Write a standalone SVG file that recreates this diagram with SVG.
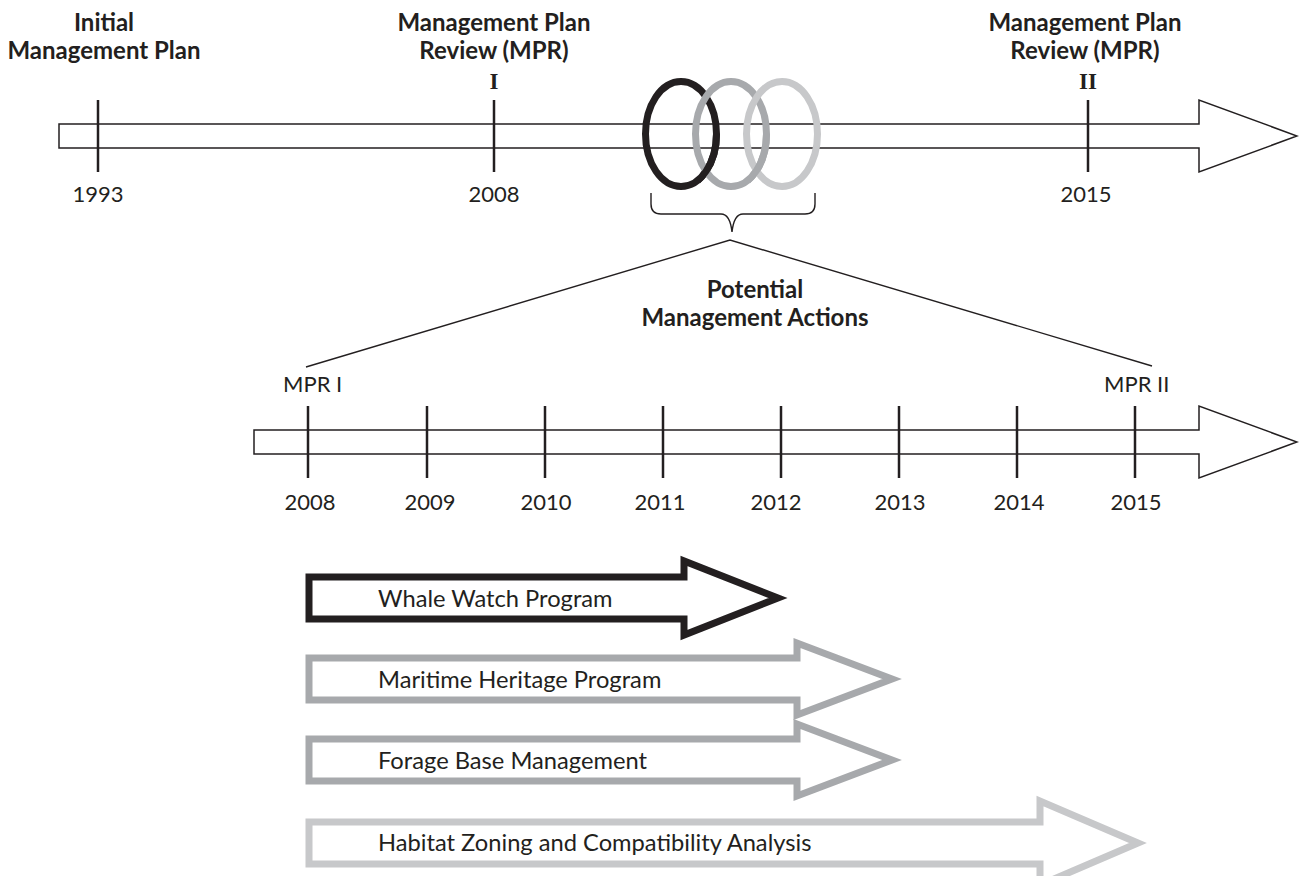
<svg xmlns="http://www.w3.org/2000/svg" width="1299" height="876" viewBox="0 0 1299 876">
<defs>
<style>
.bold{font-family:Lato,"Open Sans",sans-serif;font-weight:bold;font-size:24px;fill:#231f20;text-anchor:middle}
.roman{font-family:"Liberation Serif",serif;font-weight:bold;font-size:23px;fill:#231f20;text-anchor:middle}
.year{font-family:Lato,"Open Sans",sans-serif;font-size:22px;fill:#231f20;text-anchor:middle}
.mpr{font-family:Lato,"Open Sans",sans-serif;font-size:22px;fill:#231f20;text-anchor:start}
.lbl{font-family:Lato,"Open Sans",sans-serif;font-size:23.7px;fill:#231f20}
.tl{fill:#fff;stroke:#231f20;stroke-width:1.5}
.tick{stroke:#231f20;stroke-width:2.5}
.thin{fill:none;stroke:#231f20;stroke-width:1.4}
.act{fill:#fff;stroke-width:7;stroke-linejoin:miter;stroke-miterlimit:10}
.ring{fill:none;stroke-width:7}
</style>
<clipPath id="c1"><rect x="700" y="134" width="40" height="70"/></clipPath>
<clipPath id="c2"><rect x="750" y="134" width="40" height="70"/></clipPath>
</defs>
<rect width="1299" height="876" fill="#fff"/>

<g id="timeline-main">
<path class="tl" d="M59,124 H1199 V100 L1297,136 L1199,172 V148 H59 Z"/>
<line class="tick" x1="98" y1="100" x2="98" y2="172"/>
<line class="tick" x1="494" y1="100" x2="494" y2="172"/>
<line class="tick" x1="1088" y1="100" x2="1088" y2="172"/>
</g>

<g id="label-initial">
<text class="bold" x="104" y="31">Initial</text>
<text class="bold" x="104" y="59">Management Plan</text>
<text class="year" x="98" y="202">1993</text>
</g>
<g id="label-mpr1">
<text class="bold" x="494" y="31">Management Plan</text>
<text class="bold" x="494" y="59">Review (MPR)</text>
<text class="roman" x="494" y="89">I</text>
<text class="year" x="494" y="202">2008</text>
</g>
<g id="label-mpr2">
<text class="bold" x="1085" y="31">Management Plan</text>
<text class="bold" x="1085" y="59">Review (MPR)</text>
<text class="roman" x="1088" y="89">II</text>
<text class="year" x="1086" y="202">2015</text>
</g>

<g id="rings">
<ellipse class="ring" cx="681" cy="134" rx="35.5" ry="52.5" stroke="#231f20"/>
<ellipse class="ring" cx="731" cy="134" rx="35.5" ry="52.5" stroke="#a7a9ac"/>
<ellipse class="ring" cx="782" cy="134" rx="35.5" ry="52.5" stroke="#c7c8ca"/>
<ellipse class="ring" cx="681" cy="134" rx="35.5" ry="52.5" stroke="#231f20" clip-path="url(#c1)"/>
<ellipse class="ring" cx="731" cy="134" rx="35.5" ry="52.5" stroke="#a7a9ac" clip-path="url(#c2)"/>
</g>

<g id="connectors">
<path class="thin" d="M651,193 V204 Q651,214 661,214 H721 Q730,214 732,232 Q734,214 743,214 H805 Q815,214 815,204 V193"/>
<path class="thin" d="M306,367 L730,240 L1152,366"/>
</g>

<g id="label-potential">
<text class="bold" x="755" y="298">Potential</text>
<text class="bold" x="755" y="326">Management Actions</text>
</g>

<g id="timeline-detail">
<path class="tl" d="M254,430 H1199 V406 L1297,442 L1199,478 V454 H254 Z"/>
<line class="tick" x1="308" y1="406" x2="308" y2="478"/>
<line class="tick" x1="427" y1="406" x2="427" y2="478"/>
<line class="tick" x1="545" y1="406" x2="545" y2="478"/>
<line class="tick" x1="663" y1="406" x2="663" y2="478"/>
<line class="tick" x1="781" y1="406" x2="781" y2="478"/>
<line class="tick" x1="899" y1="406" x2="899" y2="478"/>
<line class="tick" x1="1017" y1="406" x2="1017" y2="478"/>
<line class="tick" x1="1135" y1="406" x2="1135" y2="478"/>
<text class="year" x="310" y="510">2008</text>
<text class="year" x="430" y="510">2009</text>
<text class="year" x="546" y="510">2010</text>
<text class="year" x="660" y="510">2011</text>
<text class="year" x="776" y="510">2012</text>
<text class="year" x="900" y="510">2013</text>
<text class="year" x="1019" y="510">2014</text>
<text class="year" x="1136" y="510">2015</text>
<text class="mpr" x="283" y="392">MPR I</text>
<text class="mpr" x="1104" y="392">MPR II</text>
</g>

<g id="action-whale">
<path class="act" stroke="#231f20" d="M309,577 H684 V561 L778,598 L684,635 V619 H309 Z"/>
<text class="lbl" x="378" y="607">Whale Watch Program</text>
</g>
<g id="action-maritime">
<path class="act" stroke="#a7a9ac" d="M309,658 H797 V643 L892,679 L797,715 V700 H309 Z"/>
<text class="lbl" x="378" y="688">Maritime Heritage Program</text>
</g>
<g id="action-forage">
<path class="act" stroke="#a7a9ac" d="M309,739 H797 V724 L892,760 L797,796 V781 H309 Z"/>
<text class="lbl" x="378" y="769">Forage Base Management</text>
</g>
<g id="action-habitat">
<path class="act" stroke="#c7c8ca" d="M309,822 H1040 V801 L1138,843 L1040,885 V864 H309 Z"/>
<text class="lbl" x="378" y="851">Habitat Zoning and Compatibility Analysis</text>
</g>
</svg>
